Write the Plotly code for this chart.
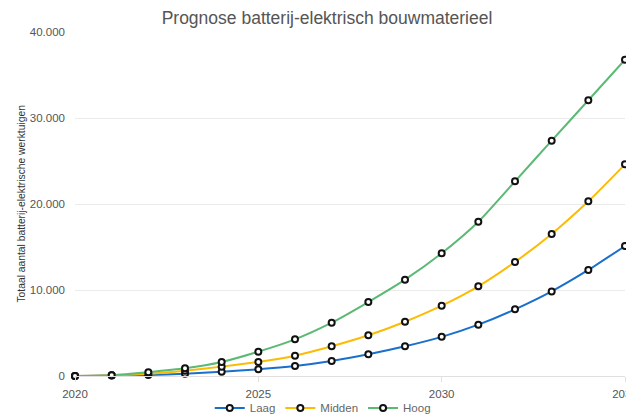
import plotly.graph_objects as go

years = list(range(2020, 2036))
laag = [0, 50, 120, 270, 500, 780, 1160, 1740, 2520, 3450, 4550, 5970, 7750, 9840, 12330, 15120]
midden = [0, 80, 270, 620, 1090, 1630, 2360, 3450, 4730, 6310, 8180, 10430, 13260, 16510, 20310, 24610]
hoog = [0, 100, 450, 890, 1630, 2830, 4260, 6200, 8600, 11200, 14270, 17940, 22640, 27360, 32060, 36780]

series_names = ["Laag", "Midden", "Hoog"]
series_values = [laag, midden, hoog]
series_colors = ["#1a6fcc", "#fbbc04", "#5bb974"]

FONT = "Liberation Sans, Arial, Helvetica, sans-serif"

fig = go.Figure()
for name, vals, col in zip(series_names, series_values, series_colors):
    fig.add_trace(go.Scatter(
        x=years, y=vals, name=name, mode="lines+markers",
        line=dict(color=col, width=2, shape="spline", smoothing=0.6),
        marker=dict(size=6, color="white", line=dict(color="#111111", width=2)),
        cliponaxis=False,
    ))

# page body has an 8px default margin, so the figure is 8px smaller than the window
fig.update_layout(
    width=626, height=410,
    margin=dict(l=67, r=9, t=24, b=42),
    paper_bgcolor="white", plot_bgcolor="white",
    separators=",.",
    font=dict(family=FONT, size=11.5, color="#555555"),
    title=dict(text="Prognose batterij-elektrisch bouwmaterieel", x=0.5096, xanchor="center",
               xref="container", y=0.975, yanchor="middle",
               font=dict(family=FONT, size=17.5, color="#555555")),
    showlegend=True,
    legend=dict(orientation="h", x=0.245, xanchor="left", xref="paper",
                y=0.0244, yanchor="middle", yref="container",
                bgcolor="rgba(0,0,0,0)",
                font=dict(family=FONT, size=11.5, color="#666666"),
                itemwidth=30, tracegroupgap=0),
    xaxis=dict(range=[2020, 2035], tickvals=[2020, 2025, 2030, 2035], showgrid=False,
               zeroline=False, showline=True, linecolor="#e0e0e0", ticks="outside",
               tickcolor="#e0e0e0", ticklen=5, ticklabelstandoff=2, automargin=False,
               ticklabeloverflow="allow",
               tickfont=dict(family=FONT, size=11.5, color="#555555")),
    yaxis=dict(range=[0, 40000], tickvals=[0, 10000, 20000, 30000, 40000], tickformat=",d",
               showgrid=True, gridcolor="#ebebeb", zeroline=False, showline=False,
               ticks="", ticklabelstandoff=9, automargin=False,
               tickfont=dict(family=FONT, size=11.5, color="#555555")),
    annotations=[dict(text="Totaal aantal batterij-elektrische werktuigen",
                      xref="paper", yref="paper", x=-0.099, y=0.5,
                      xanchor="center", yanchor="middle", textangle=-90, showarrow=False,
                      font=dict(family=FONT, size=10.3, color="#333333"))],
)

fig.write_html("out.html")
